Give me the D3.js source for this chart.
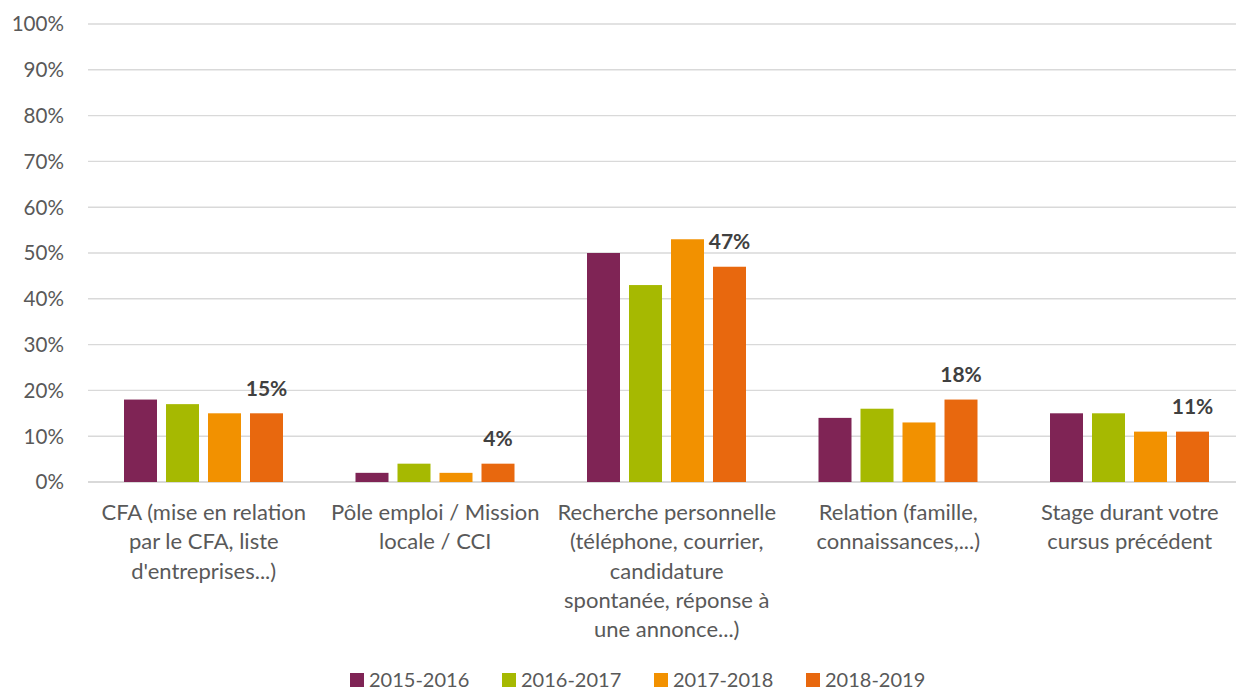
<!DOCTYPE html>
<html><head><meta charset="utf-8">
<script src="https://cdn.jsdelivr.net/npm/d3@7"></script>
<style>
body{margin:0;background:#fff;overflow:hidden;}
text{font-family:"Lato","Open Sans",sans-serif;}
</style></head>
<body><svg id="c" width="1236" height="692"></svg>
<script>
const categories = [
  ["CFA (mise en relation","par le CFA, liste","d'entreprises...)"],
  ["Pôle emploi / Mission","locale / CCI"],
  ["Recherche personnelle","(téléphone, courrier,","candidature","spontanée, réponse à","une annonce...)"],
  ["Relation (famille,","connaissances,...)"],
  ["Stage durant votre","cursus précédent"]
];
const series = ["2015-2016","2016-2017","2017-2018","2018-2019"];
const colors = ["#7f2455","#a6b901","#f29100","#e8680e"];
const values = [
  [18,17,15,15],
  [2,4,2,4],
  [50,43,53,47],
  [14,16,13,18],
  [15,15,11,11]
];
const yTicks = [0,10,20,30,40,50,60,70,80,90,100];

const svg = d3.select("#c");
const mLeft = 88, mRight = 1245.5, mTop = 24, mBottom = 482;
const x0 = d3.scaleBand().domain(d3.range(categories.length)).range([mLeft,mRight]).paddingInner(0).paddingOuter(0);
const x1 = d3.scaleBand().domain(series).range([36,195]).paddingInner(9/42).paddingOuter(0);
const y = d3.scaleLinear().domain([0,100]).range([mBottom,mTop]);

svg.append("g").selectAll("line").data(yTicks).join("line")
  .attr("x1",mLeft).attr("x2",mRight)
  .attr("y1",d=>y(d)).attr("y2",d=>y(d))
  .attr("stroke","#d9d9d9").attr("stroke-width",d=>d===0?2.2:1.4);

svg.append("g").selectAll("text").data(yTicks).join("text")
  .attr("x",64).attr("y",d=>y(d)).attr("dy","0.36em")
  .attr("text-anchor","end").attr("fill","#595959").attr("font-size",20.6)
  .text(d=>d+"%");

const g = svg.append("g").selectAll("g").data(values).join("g")
  .attr("transform",(d,i)=>`translate(${x0(i)},0)`);
g.selectAll("rect").data(d=>d.map((v,j)=>({v,s:series[j],j}))).join("rect")
  .attr("x",d=>x1(d.s)).attr("width",x1.bandwidth())
  .attr("y",d=>y(d.v)).attr("height",d=>y(0)-y(d.v))
  .attr("fill",d=>colors[d.j]);

g.append("text")
  .attr("x",x1(series[3])+x1.bandwidth()/2)
  .attr("y",d=>y(d[3])-25)
  .attr("dy","0.36em")
  .attr("text-anchor","middle").attr("font-weight","bold")
  .attr("font-size",21).attr("fill","#404040")
  .text(d=>d[3]+"%");

svg.append("g").selectAll("text").data(categories).join("text")
  .attr("x",(d,i)=>x0(i)+x0.bandwidth()/2)
  .attr("y",520).attr("text-anchor","middle").attr("fill","#595959").attr("font-size",22)
  .selectAll("tspan").data(d=>d).join("tspan")
  .attr("x",function(){return d3.select(this.parentNode).attr("x");})
  .attr("dy",(d,i)=>i===0?0:29.3)
  .text(d=>d);

const lg = svg.append("g").selectAll("g").data(series).join("g")
  .attr("transform",(d,i)=>`translate(${350+i*152},680)`);
lg.append("rect").attr("x",0).attr("y",-7).attr("width",14).attr("height",14).attr("fill",(d,i)=>colors[i]);
lg.append("text").attr("x",19).attr("y",0).attr("dy","0.36em").attr("fill","#595959").attr("font-size",20).text(d=>d);
</script></body></html>
